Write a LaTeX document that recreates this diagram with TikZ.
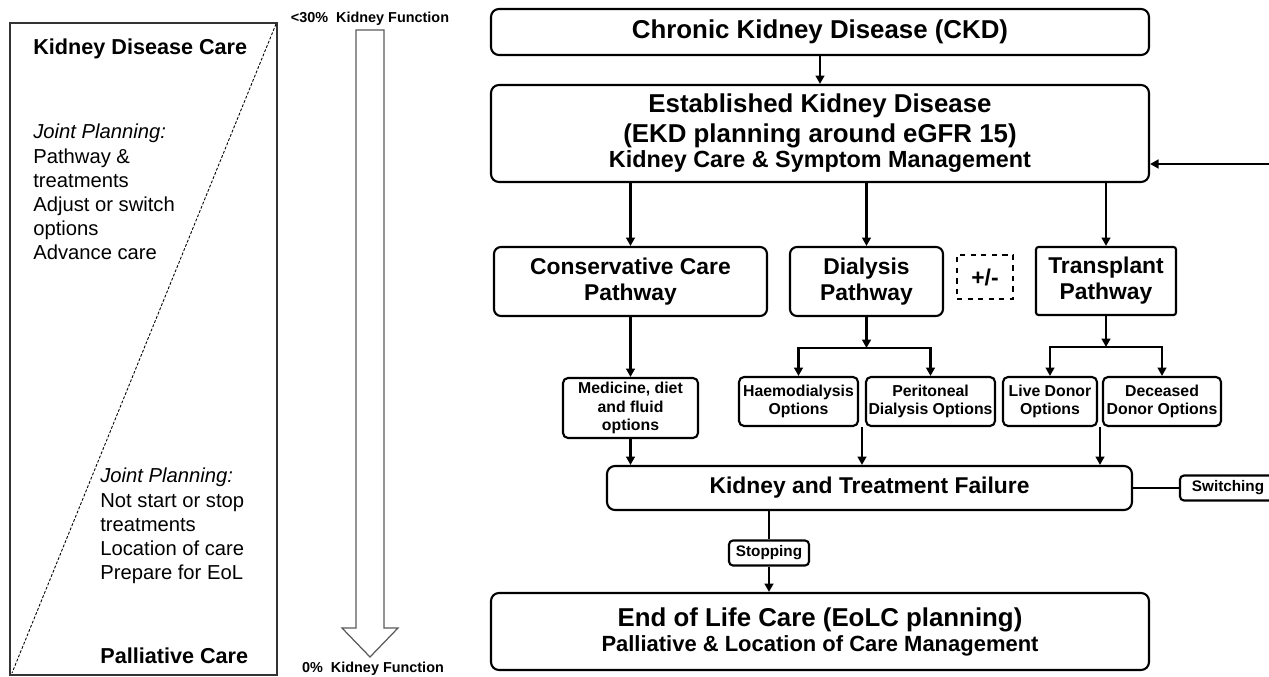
\documentclass[tikz,border=0pt]{standalone}
\usepackage{fontspec}
\setmainfont{Liberation Sans}
\usetikzlibrary{arrows.meta,positioning,calc}

\begin{document}
\begin{tikzpicture}[x=0.2mm, y=-0.2mm,
  bigbox/.style={rectangle, rounded corners=1.6mm, draw, line width=1.2pt, minimum width=131.6mm, align=center, inner sep=0pt},
  pathbox/.style={rectangle, rounded corners=1.4mm, draw, line width=1.2pt, minimum width=#1, minimum height=13.8mm, align=center, inner sep=1pt, font=\fontsize{13}{14.8}\selectfont\bfseries},
  optbox/.style={rectangle, rounded corners=1mm, draw, line width=1.2pt, minimum width=#1, minimum height=9.8mm, align=center, inner sep=1pt, font=\fontsize{9}{10.7}\selectfont\bfseries},
  tagbox/.style={rectangle, rounded corners=0.8mm, draw, line width=1.2pt, minimum width=#1, minimum height=5mm, inner sep=1pt, font=\fontsize{8.7}{10}\selectfont\bfseries},
  arr/.style={-{Triangle[length=4.8pt,width=5pt]}, line width=1.2pt},
  lnk/.style={line width=1.2pt},
  kf/.style={font=\fontsize{8.2}{10}\selectfont\bfseries, inner sep=0pt}
]
  \useasboundingbox (0,0) rectangle (1269,677);

  % left panel
  \draw[line width=0.8pt, black!80] (10,23) rectangle (277,675);
  \draw[line width=0.5pt, dash pattern=on 1.6pt off 1pt] (276,24) -- (12,673);
  \node[anchor=base west, inner sep=0pt, font=\fontsize{12.3}{14}\selectfont\bfseries] (kdc) at (33,55) {Kidney Disease Care};
  \node[anchor=north west, inner sep=0pt, align=left, font=\fontsize{11.5}{13.7}\selectfont] (jp1) at (33,124)
    {\textit{Joint Planning:}\\Pathway \&\\treatments\\Adjust or switch\\options\\Advance care};
  \node[anchor=north west, inner sep=0pt, align=left, font=\fontsize{11.5}{13.7}\selectfont] (jp2) at (100,468)
    {\textit{Joint Planning:}\\Not start or stop\\treatments\\Location of care\\Prepare for EoL};
  \node[anchor=base west, inner sep=0pt, font=\fontsize{12.3}{14}\selectfont\bfseries] (pc) at (100,663) {Palliative Care};

  % kidney function arrow
  \draw[line width=0.7pt, black!65] (356,30) -- (384,30) -- (384,628) -- (398,628) -- (370,657) -- (342,628) -- (356,628) -- cycle;
  \node[kf] (kftop) at (370,19) {<30\%\ \ Kidney Function};
  \node[kf] (kfbot) at (373,669) {0\%\ \ Kidney Function};

  % main flow
  \node[bigbox, minimum height=9.2mm, font=\fontsize{14.7}{17}\selectfont\bfseries] (ckd) at (820,32) {Chronic Kidney Disease (CKD)};
  \node[bigbox, minimum height=19.4mm, font=\fontsize{14.7}{17}\selectfont\bfseries] (ekd) at (820,133.5)
    {Established Kidney Disease\\(EKD planning around eGFR 15)\\[-2.6pt]{\fontsize{13.3}{15}\selectfont Kidney Care \& Symptom Management}};

  \node[pathbox=54.6mm] (cons) at (630.5,281.5) {Conservative Care\\Pathway};
  \node[pathbox=30.6mm] (dial) at (866.5,281.5) {Dialysis\\Pathway};
  \node[rectangle, draw, dashed, line width=1.1pt, minimum width=11.2mm, minimum height=8.8mm, font=\fontsize{13}{15}\selectfont\bfseries] (pm) at (985,277) {+/-};
  \node[pathbox=28mm, rounded corners=0.5mm, minimum height=13.6mm] (trans) at (1106,281) {Transplant\\Pathway};

  \node[optbox=27mm, minimum height=12mm] (med) at (630.5,408) {Medicine, diet\\and fluid\\options};
  \node[optbox=23.8mm] (haemo) at (798.5,401.5) {Haemodialysis\\Options};
  \node[optbox=25.8mm] (perit) at (930.5,401.5) {Peritoneal\\Dialysis Options};
  \node[optbox=18.8mm] (live) at (1050,401.5) {Live Donor\\Options};
  \node[optbox=23.6mm] (dec) at (1162,401.5) {Deceased\\Donor Options};

  \node[bigbox, minimum width=105mm, minimum height=8.8mm, font=\fontsize{13}{15}\selectfont\bfseries] (fail) at (869.5,488) {Kidney and Treatment Failure};
  \node[tagbox=19.2mm] (switch) at (1228,488) {Switching};
  \node[tagbox=16mm] (stop) at (769,553) {Stopping};
  \node[bigbox, minimum height=15.4mm, font=\fontsize{14.7}{17}\selectfont\bfseries] (eol) at (820,631.5)
    {End of Life Care (EoLC planning)\\[-2.8pt]{\fontsize{12.5}{14}\selectfont Palliative \& Location of Care Management}};

  % connectors
  \coordinate (fb) at (1269,164);
  \coordinate (dialbr) at (866.5,348);
  \coordinate (transbr) at (1106,347);
  \coordinate (hpmid) at ($(haemo.south east)!0.5!(perit.south west)$);
  \coordinate (lddmid) at ($(live.south east)!0.5!(dec.south west)$);

  \draw[arr] (ckd) -- (ekd);
  \draw[arr] (fb) -- (fb -| ekd.east);
  \foreach \p in {cons, dial, trans}{\draw[arr] (\p.north |- ekd.south) -- (\p.north);}
  \draw[arr] (cons) -- (med);
  \draw[arr] (dial) -- (dialbr);
  \draw[arr] (dialbr) -| (haemo.north);
  \draw[arr] (dialbr) -| (perit.north);
  \draw[arr] (trans) -- (transbr);
  \draw[arr] (transbr) -| (live.north);
  \draw[arr] (transbr) -| (dec.north);
  \draw[arr] (med.south) -- (med.south |- fail.north);
  \draw[arr] (hpmid) -- (hpmid |- fail.north);
  \draw[arr] (lddmid) -- (lddmid |- fail.north);
  \draw[lnk] (fail.east) -- (fail.east -| switch.west);
  \draw[lnk] (stop.north |- fail.south) -- (stop.north);
  \draw[arr] (stop.south) -- (stop.south |- eol.north);
\end{tikzpicture}
\end{document}
